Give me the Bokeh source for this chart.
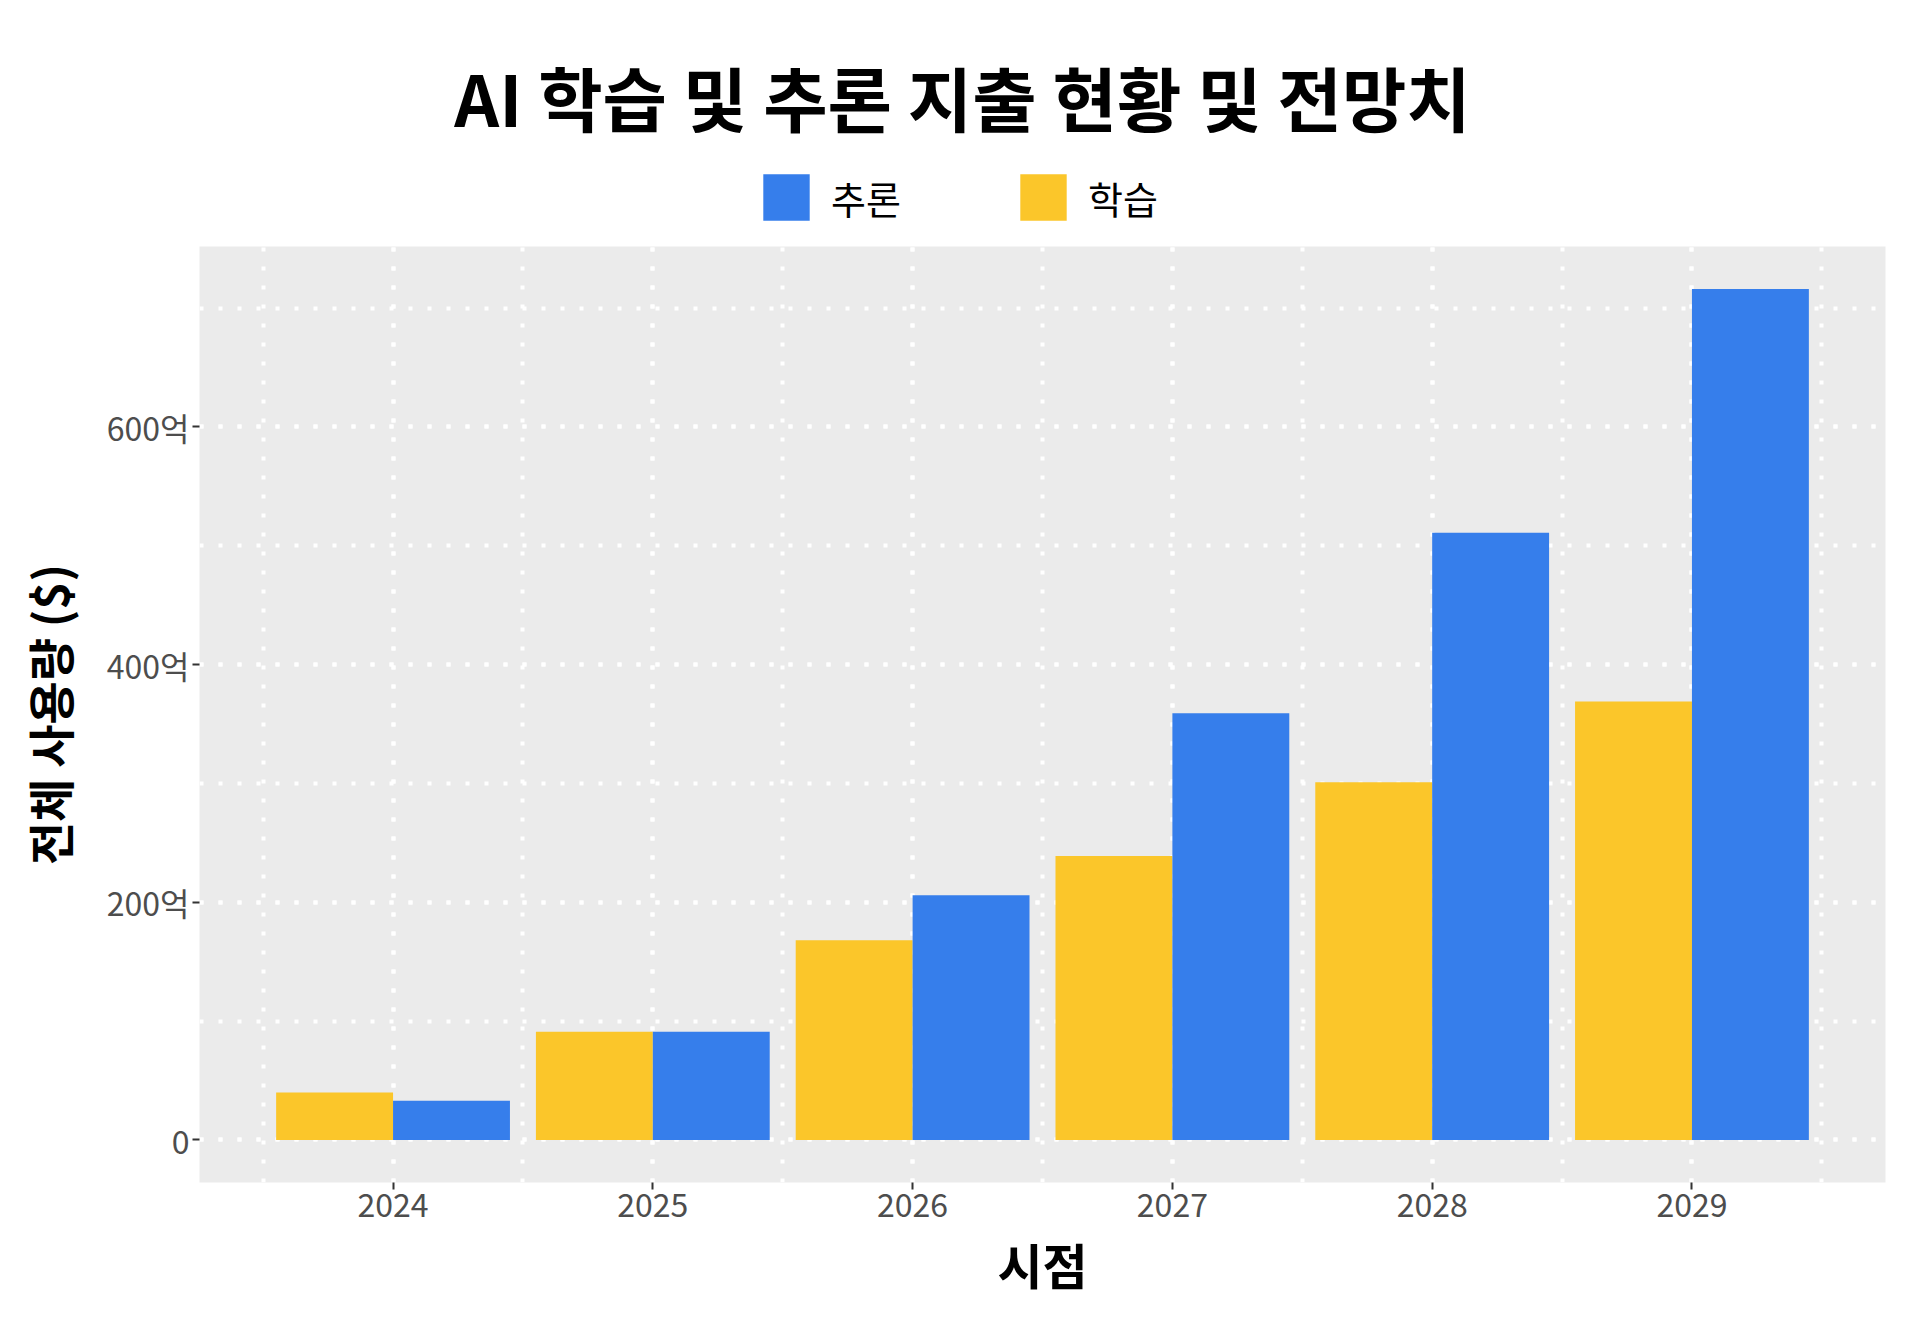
from bokeh.plotting import figure
from bokeh.layouts import column
from bokeh.models import (ColumnDataSource, Range1d, SingleIntervalTicker, Legend,
                          LegendItem, Label)
from bokeh.transform import dodge
from bokeh.embed import file_html
from bokeh.resources import INLINE

# ---- data (values in 억 $) ----
years = [2024, 2025, 2026, 2027, 2028, 2029]
training = [40, 91, 168, 239, 301, 369]      # 학습
inference = [33, 91, 206, 359, 511, 716]     # 추론
legend_names = ["추론", "학습"]
y_ticks = [0, 200, 400, 600]
y_tick_labels = ["0", "200억", "400억", "600억"]
title_text = "AI 학습 및 추론 지출 현황 및 전망치"
x_label = "시점"
y_label = "전체 사용량 ($)"

BLUE = "#367EEB"
YELLOW = "#FBC62A"
FONT = "Noto Sans CJK KR"
W, H, HEAD = 1920, 1329, 246
LEFT, RIGHT, BOTTOM = 199, 35, 147   # main frame borders (column aligns header too)
X0, X1 = 2023.255, 2029.745

src = ColumnDataSource(dict(year=years, training=training, inference=inference))

# ---------------- header: title + legend ----------------
head = figure(width=W, height=HEAD, output_backend="svg", toolbar_location=None,
              x_range=Range1d(X0, X1), y_range=Range1d(1, 2),
              x_axis_type=None, y_axis_type=None,
              min_border_left=LEFT, min_border_right=RIGHT,
              min_border_top=0, min_border_bottom=0)
head.background_fill_color = "white"
head.border_fill_color = "white"
head.outline_line_color = None

# legend keys: zero-height bars lying outside the header's visible range
k_train = head.vbar(x="year", top=0, bottom=0, width=0.45, source=src,
                    fill_color=YELLOW, line_color=None)
k_inf = head.vbar(x="year", top=0, bottom=0, width=0.45, source=src,
                  fill_color=BLUE, line_color=None)

head.add_layout(Label(x=962 - LEFT, y=HEAD - 96, x_units="screen", y_units="screen",
                      text=title_text, text_font=FONT, text_font_style="bold",
                      text_font_size="70px", text_color="black",
                      text_align="center", text_baseline="middle"))

legend = Legend(items=[LegendItem(label=legend_names[0], renderers=[k_inf]),
                       LegendItem(label=legend_names[1], renderers=[k_train])],
                location=(558, 20), orientation="horizontal",
                glyph_width=58, glyph_height=58, label_height=58,
                label_standoff=16, spacing=113, padding=0, margin=0,
                border_line_color=None, background_fill_alpha=0,
                label_text_font=FONT, label_text_font_size="38px",
                label_text_color="black")
head.add_layout(legend, "center")

# ---------------- main chart ----------------
ymax = max(max(training), max(inference))
p = figure(width=W, height=H - HEAD, output_backend="svg", toolbar_location=None,
           x_range=Range1d(X0, X1),
           y_range=Range1d(-0.05 * ymax, 1.05 * ymax),
           min_border_left=LEFT, min_border_right=RIGHT,
           min_border_top=0, min_border_bottom=BOTTOM)

p.background_fill_color = "#EBEBEB"
p.border_fill_color = "white"
p.outline_line_color = None

p.vbar(x=dodge("year", -0.225), top="training", width=0.45, bottom=0,
       source=src, fill_color=YELLOW, line_color=None)
p.vbar(x=dodge("year", 0.225), top="inference", width=0.45, bottom=0,
       source=src, fill_color=BLUE, line_color=None)

p.xaxis.ticker = SingleIntervalTicker(interval=1, num_minor_ticks=2)
p.yaxis.ticker = SingleIntervalTicker(interval=200, num_minor_ticks=2)
p.yaxis.major_label_overrides = {t: l for t, l in zip(y_ticks, y_tick_labels)}

for ax in (p.xaxis[0], p.yaxis[0]):
    ax.axis_line_color = None
    ax.major_tick_line_color = "#333333"
    ax.major_tick_line_width = 2
    ax.major_tick_out = 7
    ax.major_tick_in = 0
    ax.minor_tick_line_color = None
    ax.major_label_text_font = FONT
    ax.major_label_text_font_size = "32px"
    ax.major_label_text_color = "#4D4D4D"
    ax.axis_label_text_font = FONT
    ax.axis_label_text_font_style = "bold"
    ax.axis_label_text_color = "black"

p.yaxis.major_label_standoff = 3
p.xaxis.major_label_standoff = 3
p.xaxis.axis_label = x_label
p.xaxis.axis_label_text_font_size = "49px"
p.xaxis.axis_label_standoff = 8
p.yaxis.axis_label = y_label
p.yaxis.axis_label_text_font_size = "47px"
p.yaxis.axis_label_standoff = 21

for g in (p.xgrid[0], p.ygrid[0]):
    g.grid_line_color = "white"
    g.grid_line_width = 4
    g.grid_line_dash = "4 15"
    g.minor_grid_line_color = "white"
    g.minor_grid_line_width = 4
    g.minor_grid_line_dash = "4 15"

layout = column(head, p, spacing=0)
open("out.html", "w").write(file_html(layout, INLINE))
